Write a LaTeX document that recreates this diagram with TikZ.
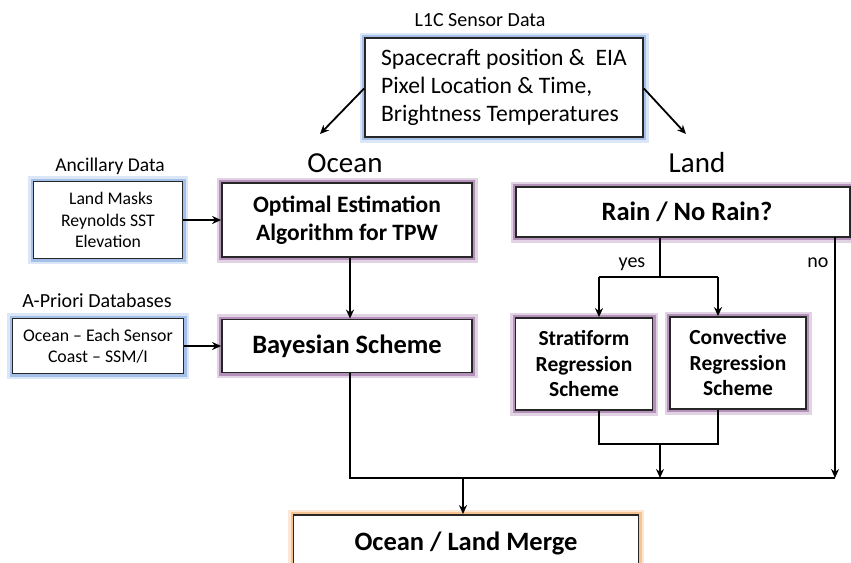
\documentclass[tikz,border=0pt]{standalone}
\usepackage{fontspec}
\setmainfont{Carlito}
\usetikzlibrary{arrows.meta}
\definecolor{glowblue}{RGB}{165,192,232}
\definecolor{glowpurple}{RGB}{180,145,185}
\definecolor{gloworange}{RGB}{245,195,145}
\begin{document}
\begin{tikzpicture}[x=1pt,y=-1pt,
  box/.style={rectangle,draw=black!85,line width=1.8pt,fill=white,inner sep=0pt,
    preaction={draw=#1!40,line width=11pt},
    preaction={draw=#1,line width=6pt}},
  inbox/.style={box=glowblue,align=center},
  procbox/.style={box=glowpurple,align=center,font=\bfseries\fontsize{26.5}{30}\selectfont},
  lbl/.style={inner sep=0pt,anchor=base},
  conn/.style={line width=1.8pt,draw=black},
  arr/.style={conn,-{Stealth[length=9pt,width=8pt]}}
]
\path[use as bounding box] (0,0) rectangle (851,562);
\clip (0,0) rectangle (851,562);

% titles
\node[lbl,font=\fontsize{20}{24}\selectfont] (l1clbl) at (480,27) {L1C Sensor Data};
\node[lbl,font=\fontsize{29}{34}\selectfont] (oceanlbl) at (345,172) {Ocean};
\node[lbl,font=\fontsize{29}{34}\selectfont] (landlbl) at (697,172) {Land};
\node[lbl,font=\fontsize{19.5}{22}\selectfont] (anclbl) at (110,171) {Ancillary Data};
\node[lbl,font=\fontsize{20}{22}\selectfont] (aprlbl) at (97,307) {A-Priori Databases};

% boxes
\node[inbox,minimum width=278pt,minimum height=99pt,align=left,
  font=\fontsize{23.6}{28}\selectfont] (top) at (504,87.5)
  {Spacecraft position \&\ \ EIA\\Pixel Location \& Time,\\Brightness Temperatures\hspace*{4pt}};
\node[inbox,minimum width=149pt,minimum height=77pt,
  font=\fontsize{17.7}{21.5}\selectfont] (anc) at (108,220)
  {\hspace*{6pt}Land Masks\\Reynolds SST\\Elevation};
\node[inbox,minimum width=171pt,minimum height=55pt,
  font=\fontsize{17.8}{21.5}\selectfont] (apr) at (98,346)
  {Ocean -- Each Sensor\\Coast -- SSM/I};
\node[procbox,minimum width=250pt,minimum height=74pt,
  font=\bfseries\fontsize{23.5}{28}\selectfont] (oe) at (347,220)
  {Optimal Estimation\\Algorithm for TPW};
\node[procbox,minimum width=250pt,minimum height=53pt] (bay) at (347,346)
  {Bayesian Scheme};
\node[procbox,minimum width=334pt,minimum height=50pt] (rain) at (683,212)
  {\hspace*{8pt}Rain / No Rain?};
\node[procbox,minimum width=137pt,minimum height=92pt,
  font=\bfseries\fontsize{21.5}{25.5}\selectfont] (strat) at (584,364)
  {Stratiform\\Regression\\Scheme};
\node[procbox,minimum width=136pt,minimum height=92pt,
  font=\bfseries\fontsize{21.5}{25.5}\selectfont] (conv) at (738,363)
  {Convective\\Regression\\Scheme};
\node[box=gloworange,minimum width=345pt,minimum height=60pt,
  font=\bfseries\fontsize{26.5}{30}\selectfont] (merge) at (466,545)
  {\raisebox{8pt}{Ocean / Land Merge}};

% labels on branches
\node[lbl,font=\fontsize{20}{24}\selectfont] (yes) at (632,267) {yes};
\node[lbl,font=\fontsize{20}{24}\selectfont] (no) at (818,267) {no};

% coordinates
\coordinate (oa) at (320,134);
\coordinate (la) at (686,134);
\coordinate (split) at (660,277);
\coordinate (sa) at (599,277);
\coordinate (ca) at (718,277);
\coordinate (join) at (660,444);
\coordinate (noX) at (835,237);
\coordinate (noY) at (835,478);
\coordinate (bus) at (350,478);
\coordinate (mergeX) at (463,478);

% connectors
\draw[arr] (top.west) ++(0,1) -- (oa);
\draw[arr] (top.east) ++(0,1) -- (la);
\draw[arr] (anc.east) -- (oe.west);
\draw[arr] (apr.east) -- (bay.west);
\draw[arr] (oe.south -| bus) -- (bay.north -| bus);
\draw[conn] (rain.south -| split) -- (split);
\draw[conn] (sa) -- (ca);
\draw[arr] (sa) -- (strat.north -| sa);
\draw[arr] (ca) -- (conv.north -| ca);
\draw[conn] (strat.south -| sa) |- (join) -| (conv.south -| ca);
\draw[arr] (join) -- (join |- noY);
\draw[arr] (noX) -- (noY);
\draw[conn] (bay.south -| bus) -- (bus) -- (noY);
\draw[arr] (mergeX) -- (merge.north -| mergeX);
\end{tikzpicture}
\end{document}
